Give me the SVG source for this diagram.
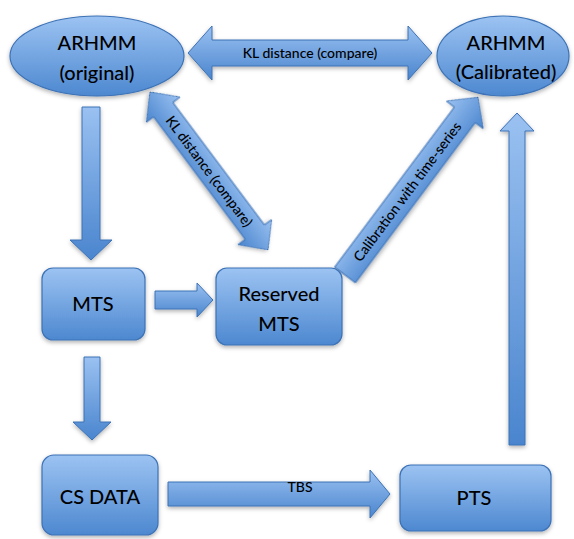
<svg xmlns="http://www.w3.org/2000/svg" width="574" height="539" viewBox="0 0 574 539">
<defs>
<linearGradient id="g" x1="0" y1="0" x2="0" y2="1">
<stop offset="0" stop-color="#9cc3f2"/>
<stop offset="1" stop-color="#4d88d0"/>
</linearGradient>
<linearGradient id="gh" x1="0" y1="0" x2="0" y2="1">
<stop offset="0" stop-color="#9ac1f1"/>
<stop offset="1" stop-color="#4a85ce"/>
</linearGradient>
<filter id="sh" x="-20%" y="-20%" width="140%" height="150%">
<feDropShadow dx="0" dy="2" stdDeviation="2" flood-color="#000" flood-opacity="0.3"/>
</filter>
<style>
.n{fill:url(#g);stroke:#3c72b6;stroke-width:1.2;filter:url(#sh)}
.a{fill:url(#gh);stroke:#3c72b6;stroke-width:1;filter:url(#sh)}
.t{font-family:Lato,"Open Sans",sans-serif;font-size:20px;font-weight:500;fill:#000;text-anchor:middle}
.l{font-family:Lato,"Open Sans",sans-serif;font-size:14px;font-weight:500;fill:#000;text-anchor:middle}
</style>
</defs>
<g id="connectors">
<path class="a" transform="translate(188,53)" d="M0,0 L24,-27 L24,-13 L220,-13 L220,-27 L244,0 L220,27 L220,13 L24,13 L24,27 Z"/>
<text class="l" x="310" y="58">KL distance (compare)</text>
<g transform="translate(150,92) rotate(53.2)">
<path class="a" d="M0,0 L22,-21 L22,-12 L175,-12 L175,-21 L197,0 L175,21 L175,12 L22,12 L22,21 Z"/>
<text class="l" x="99" y="5">KL distance (compare)</text>
</g>
<g transform="translate(345,275) rotate(-53.2)">
<path class="a" d="M0,-13 L200,-13 L200,-23 L222,0 L200,23 L200,13 L0,13 Z"/>
<text class="l" x="104" y="5">Calibration with time-series</text>
</g>
<path class="a" d="M82,107 L100,107 L100,240 L112,240 L91,260 L70,240 L82,240 Z"/>
<path class="a" d="M155,291 L197,291 L197,283 L213,300 L197,317 L197,309 L155,309 Z"/>
<path class="a" d="M84,357 L100,357 L100,422 L111,422 L92,440 L73,422 L84,422 Z"/>
<path class="a" d="M168,482 L370,482 L370,470 L390,494 L370,518 L370,506 L168,506 Z"/>
<text class="l" x="300" y="492">TBS</text>
<path class="a" d="M509,445 L525,445 L525,131 L534,131 L517,113 L500,131 L509,131 Z"/>
</g>
<g id="arhmm-original">
<ellipse class="n" cx="97" cy="56" rx="87" ry="40"/>
<text class="t" x="97" y="50">ARHMM</text>
<text class="t" x="97" y="80">(original)</text>
</g>
<g id="arhmm-calibrated">
<ellipse class="n" cx="503" cy="56" rx="66" ry="40"/>
<text class="t" x="506" y="50">ARHMM</text>
<text class="t" x="506" y="79">(Calibrated)</text>
</g>
<g id="mts">
<rect class="n" x="42" y="268" width="103" height="72" rx="11"/>
<text class="t" x="93" y="311">MTS</text>
</g>
<g id="reserved-mts">
<rect class="n" x="216" y="268" width="126" height="77" rx="11"/>
<text class="t" x="279" y="301">Reserved</text>
<text class="t" x="279" y="331">MTS</text>
</g>
<g id="cs-data">
<rect class="n" x="42" y="455" width="116" height="80" rx="12"/>
<text class="t" x="100" y="504">CS DATA</text>
</g>
<g id="pts">
<rect class="n" x="400" y="465" width="151" height="66" rx="11"/>
<text class="t" x="474" y="505">PTS</text>
</g>
</svg>
